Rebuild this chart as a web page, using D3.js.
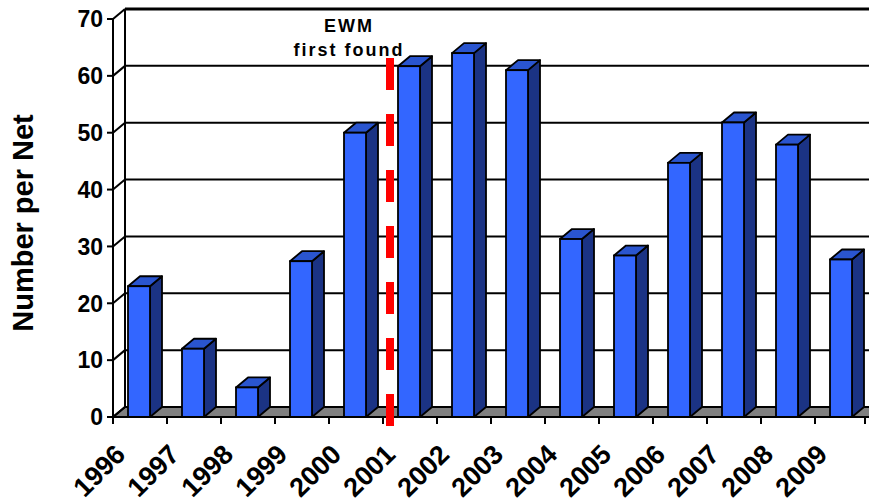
<!DOCTYPE html>
<html>
<head>
<meta charset="utf-8">
<script src="https://cdn.jsdelivr.net/npm/d3@7"></script>
<style>
  html, body { margin: 0; padding: 0; background: #fff; }
  svg { display: block; font-family: "Liberation Sans", Arial, sans-serif; }
</style>
</head>
<body>
<svg id="chart" width="869" height="504"></svg>
<script>
// Catch per net by year
const years = ["1996","1997","1998","1999","2000","2001","2002","2003","2004","2005","2006","2007","2008","2009"];
const counts = [23, 12, 5.2, 27.4, 50, 61.7, 64, 61, 31.3, 28.4, 44.7, 51.8, 47.9, 27.7];
const yTicks = [0, 10, 20, 30, 40, 50, 60, 70];
const markerYear = "2001";
const markerLines = ["EWM", "first found"];
const yTitle = "Number per Net";

const W = 869, H = 504;
const plotL = 113, plotR = 869, plotT = 19, plotB = 417;
const dx = 12, dy = 10;           // oblique depth offset of the 3D box
const barW = 22;

const svg = d3.select("#chart");

const x = d3.scaleBand().domain(years).range([plotL, plotR]).padding(0);
const y = d3.scaleLinear().domain([0, 70]).range([plotB, plotT]);

// back wall gridlines
svg.append("g").selectAll("line").data(yTicks).join("line")
  .attr("x1", plotL + dx).attr("x2", W + 20)
  .attr("y1", d => y(d) - dy).attr("y2", d => y(d) - dy)
  .attr("stroke", "#000")
  .attr("stroke-width", d => d === 70 ? 3 : 2);

// back wall left edge
svg.append("line")
  .attr("x1", plotL + dx).attr("x2", plotL + dx)
  .attr("y1", y(70) - dy).attr("y2", y(0) - dy)
  .attr("stroke", "#000").attr("stroke-width", 2);

// floor
svg.append("path")
  .attr("d", `M${plotL},${y(0)}L${W + 20},${y(0)}L${W + 20},${y(0) - dy}L${plotL + dx},${y(0) - dy}Z`)
  .attr("fill", "#808080").attr("stroke", "#000").attr("stroke-width", 2);

// side wall diagonals
svg.append("g").selectAll("line").data(yTicks).join("line")
  .attr("x1", plotL).attr("x2", plotL + dx)
  .attr("y1", d => y(d)).attr("y2", d => y(d) - dy)
  .attr("stroke", "#000").attr("stroke-width", 2);

// bars
const bars = svg.append("g").selectAll("g").data(years.map((yr, i) => ({ yr, v: counts[i] }))).join("g");
const x0 = d => x(d.yr) + x.bandwidth() / 2 - barW / 2 - 1;
const x1 = d => x0(d) + barW;
bars.append("path") // side face
  .attr("d", d => `M${x1(d)},${y(d.v)}L${x1(d) + dx},${y(d.v) - dy}L${x1(d) + dx},${y(0) - dy}L${x1(d)},${y(0)}Z`)
  .attr("fill", "#1b3384").attr("stroke", "#000").attr("stroke-width", 1.8).attr("stroke-linejoin", "round");
bars.append("path") // top face
  .attr("d", d => `M${x0(d)},${y(d.v)}L${x0(d) + dx},${y(d.v) - dy}L${x1(d) + dx},${y(d.v) - dy}L${x1(d)},${y(d.v)}Z`)
  .attr("fill", "#2a55cf").attr("stroke", "#000").attr("stroke-width", 1.8).attr("stroke-linejoin", "round");
bars.append("rect") // front face
  .attr("x", d => x0(d)).attr("y", d => y(d.v))
  .attr("width", barW).attr("height", d => y(0) - y(d.v))
  .attr("fill", "#3366ff").attr("stroke", "#000").attr("stroke-width", 1.8);

// front value axis
svg.append("line")
  .attr("x1", plotL).attr("x2", plotL).attr("y1", y(70)).attr("y2", y(0) + 7)
  .attr("stroke", "#000").attr("stroke-width", 2);
svg.append("g").selectAll("line").data(yTicks).join("line")
  .attr("x1", plotL - 6).attr("x2", plotL).attr("y1", d => y(d)).attr("y2", d => y(d))
  .attr("stroke", "#000").attr("stroke-width", 2);
svg.append("g").selectAll("text").data(yTicks).join("text")
  .attr("x", plotL - 10).attr("y", d => y(d)).attr("dy", "0.36em")
  .attr("text-anchor", "end").attr("font-weight", "bold").attr("font-size", 23)
  .text(d => d);

// front category axis
svg.append("line")
  .attr("x1", plotL).attr("x2", W).attr("y1", y(0)).attr("y2", y(0))
  .attr("stroke", "#000").attr("stroke-width", 2);
svg.append("g").selectAll("line").data(years.map(d => x(d)).concat([plotR - 4])).join("line")
  .attr("x1", d => d).attr("x2", d => d).attr("y1", y(0)).attr("y2", y(0) + 7)
  .attr("stroke", "#000").attr("stroke-width", 2);
svg.append("g").selectAll("text").data(years).join("text")
  .attr("text-anchor", "end").attr("font-weight", "bold").attr("font-size", 27)
  .attr("transform", d => `translate(${x(d) + x.bandwidth() / 2 - 13},${y(0) + 39}) rotate(-45)`)
  .text(d => d);

// marker for first detection
const mx = x(markerYear) + 7;
svg.append("line")
  .attr("x1", mx).attr("x2", mx).attr("y1", 58).attr("y2", y(0) + 9)
  .attr("stroke", "#ff0000").attr("stroke-width", 8)
  .attr("stroke-dasharray", "32 24");
svg.append("g").selectAll("text").data(markerLines).join("text")
  .attr("x", mx - 41).attr("y", (d, i) => 32 + i * 24)
  .attr("text-anchor", "middle").attr("font-weight", "bold").attr("font-size", 18)
  .attr("letter-spacing", 2)
  .text(d => d);

// axis title
svg.append("text")
  .attr("transform", `translate(33,223) rotate(-90)`)
  .attr("text-anchor", "middle").attr("font-weight", "bold").attr("font-size", 29)
  .text(yTitle);
</script>
</body>
</html>
